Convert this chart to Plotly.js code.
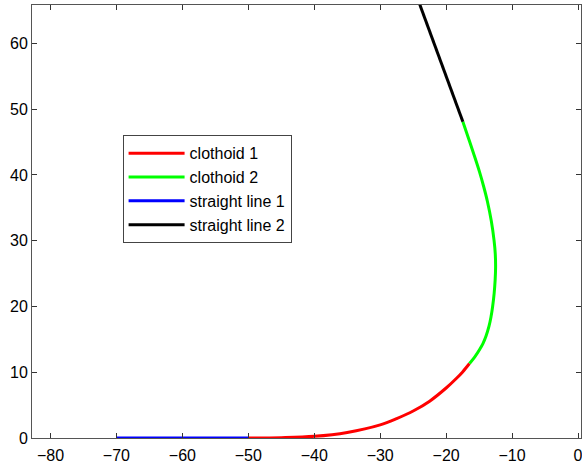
<!DOCTYPE html>
<html>
<head>
<meta charset="utf-8">
<script src="https://cdn.plot.ly/plotly-3.0.1.min.js"></script>
<style>html,body{margin:0;padding:0;background:#fff;}#chart{width:582px;height:466px;}</style>
</head>
<body>
<div id="chart"></div>
<script>
// Values
var clothoid1X = [-50, -45, -40, -35, -30, -27.5, -25, -22.5, -20, -18.5, -17.5, -16.46];
var clothoid1Y = [0, 0.05, 0.25, 0.85, 2.0, 2.95, 4.1, 5.6, 7.6, 9.0, 10.05, 11.32];
var clothoid2X = [-16.46, -15.55, -14.9, -14.42, -13.95, -13.5, -13.2, -12.95, -12.72, -12.57, -12.5,
                  -12.55, -12.73, -13.15, -13.75, -14.3, -14.95, -15.85, -16.65, -17.46];
var clothoid2Y = [11.32, 12.5, 13.5, 14.36, 15.5, 17, 18.4, 20, 22, 24, 26,
                  28, 30, 33, 36, 38.2, 40.5, 43.3, 45.7, 48.08];
var line1X = [-70, -50];
var line1Y = [0, 0];
var line2X = [-17.46, -24.4];
var line2Y = [48.08, 67];
var seriesNames = ['clothoid 1', 'clothoid 2', 'straight line 1', 'straight line 2'];
var xTicks = [-80, -70, -60, -50, -40, -30, -20, -10, 0];
var yTicks = [0, 10, 20, 30, 40, 50, 60];

var font = {family: '"Liberation Sans", Arial, Helvetica, sans-serif', size: 16, color: '#000'};
function tr(x, y, name, color, shape) {
  return {x: x, y: y, name: name, type: 'scatter', mode: 'lines',
    line: {color: color, width: 3, shape: shape || 'linear', smoothing: 1}};
}
var data = [
  tr(clothoid1X, clothoid1Y, seriesNames[0], '#ff0000', 'spline'),
  tr(clothoid2X, clothoid2Y, seriesNames[1], '#00ff00', 'spline'),
  tr(line1X, line1Y, seriesNames[2], '#0000ff'),
  tr(line2X, line2Y, seriesNames[3], '#000000')
];
var axisCommon = {showgrid: false, zeroline: false, showline: true, linecolor: '#555', linewidth: 1,
  mirror: 'allticks', ticks: 'inside', ticklen: 5, tickcolor: '#333', tickwidth: 1,
  tickfont: font, tickmode: 'array', ticklabeloverflow: 'allow'};
var layout = {
  width: 582, height: 466,
  margin: {l: 32, r: 1, t: 5, b: 28},
  paper_bgcolor: '#fff', plot_bgcolor: '#fff',
  font: font,
  showlegend: true,
  legend: {x: 0.165, y: 0.699, xanchor: 'left', yanchor: 'top', bgcolor: '#fff',
    bordercolor: '#444', borderwidth: 1, font: font, tracegroupgap: 0, itemwidth: 56},
  xaxis: Object.assign({}, axisCommon, {range: [-82.8, 0.45], tickvals: xTicks, ticklabelstandoff: 3}),
  yaxis: Object.assign({}, axisCommon, {range: [0, 65.83], tickvals: yTicks})
};
Plotly.newPlot('chart', data, layout, {displayModeBar: false, staticPlot: true});
</script>
</body>
</html>
